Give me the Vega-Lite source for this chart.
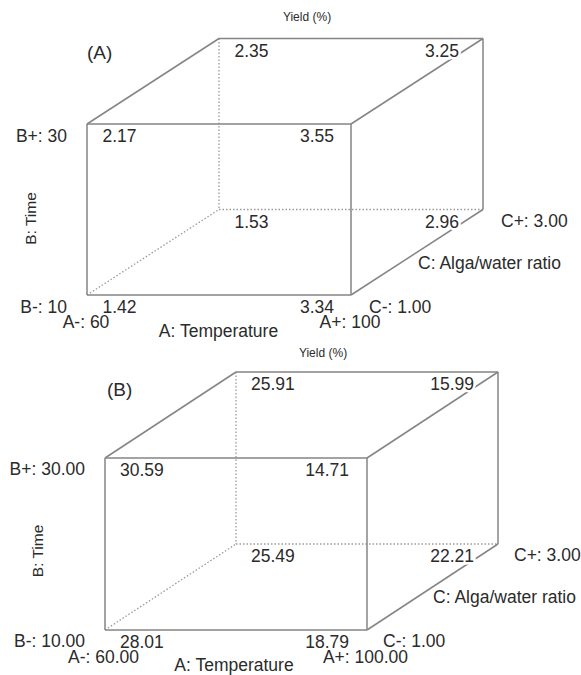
{
  "$schema": "https://vega.github.io/schema/vega-lite/v6.json",
  "padding": 0,
  "spacing": 0,
  "bounds": "flush",
  "background": "white",
  "config": {
    "view": {"stroke": null},
    "text": {"font": "Liberation Sans", "fontSize": 17.5, "fill": "#2b2b2b", "baseline": "middle"}
  },
  "datasets": {
    "edges": [
      {"X": 0, "Y": 0, "X2": 1, "Y2": 0, "hidden": false},
      {"X": 1, "Y": 0, "X2": 1, "Y2": 1, "hidden": false},
      {"X": 1, "Y": 1, "X2": 0, "Y2": 1, "hidden": false},
      {"X": 0, "Y": 1, "X2": 0, "Y2": 0, "hidden": false},
      {"X": 0.5, "Y": 1.5, "X2": 1.5, "Y2": 1.5, "hidden": false},
      {"X": 1.5, "Y": 1.5, "X2": 1.5, "Y2": 0.5, "hidden": false},
      {"X": 1, "Y": 0, "X2": 1.5, "Y2": 0.5, "hidden": false},
      {"X": 1, "Y": 1, "X2": 1.5, "Y2": 1.5, "hidden": false},
      {"X": 0, "Y": 1, "X2": 0.5, "Y2": 1.5, "hidden": false},
      {"X": 0.5, "Y": 0.5, "X2": 1.5, "Y2": 0.5, "hidden": true},
      {"X": 0.5, "Y": 1.5, "X2": 0.5, "Y2": 0.5, "hidden": true},
      {"X": 0, "Y": 0, "X2": 0.5, "Y2": 0.5, "hidden": true}
    ],
    "yields": [
      {"panel": "A", "A": -1, "B": 1, "C": -1, "X": 0, "Y": 1, "yield": 2.17},
      {"panel": "A", "A": 1, "B": 1, "C": -1, "X": 1, "Y": 1, "yield": 3.55},
      {"panel": "A", "A": -1, "B": 1, "C": 1, "X": 0.5, "Y": 1.5, "yield": 2.35},
      {"panel": "A", "A": 1, "B": 1, "C": 1, "X": 1.5, "Y": 1.5, "yield": 3.25},
      {"panel": "A", "A": -1, "B": -1, "C": -1, "X": 0, "Y": 0, "yield": 1.42},
      {"panel": "A", "A": 1, "B": -1, "C": -1, "X": 1, "Y": 0, "yield": 3.34},
      {"panel": "A", "A": -1, "B": -1, "C": 1, "X": 0.5, "Y": 0.5, "yield": 1.53},
      {"panel": "A", "A": 1, "B": -1, "C": 1, "X": 1.5, "Y": 0.5, "yield": 2.96},
      {"panel": "B", "A": -1, "B": 1, "C": -1, "X": 0, "Y": 1, "yield": 30.59},
      {"panel": "B", "A": 1, "B": 1, "C": -1, "X": 1, "Y": 1, "yield": 14.71},
      {"panel": "B", "A": -1, "B": 1, "C": 1, "X": 0.5, "Y": 1.5, "yield": 25.91},
      {"panel": "B", "A": 1, "B": 1, "C": 1, "X": 1.5, "Y": 1.5, "yield": 15.99},
      {"panel": "B", "A": -1, "B": -1, "C": -1, "X": 0, "Y": 0, "yield": 28.01},
      {"panel": "B", "A": 1, "B": -1, "C": -1, "X": 1, "Y": 0, "yield": 18.79},
      {"panel": "B", "A": -1, "B": -1, "C": 1, "X": 0.5, "Y": 0.5, "yield": 25.49},
      {"panel": "B", "A": 1, "B": -1, "C": 1, "X": 1.5, "Y": 0.5, "yield": 22.21}
    ],
    "labels": [
      {"panel": "A", "kind": "Blevel", "X": 0, "Y": 1, "text": "B+: 30"},
      {"panel": "A", "kind": "Blevel", "X": 0, "Y": 0, "text": "B-: 10"},
      {"panel": "A", "kind": "Alevel", "X": 0, "Y": 0, "text": "A-: 60"},
      {"panel": "A", "kind": "Alevel", "X": 1, "Y": 0, "text": "A+: 100"},
      {"panel": "A", "kind": "Clevel", "X": 1, "Y": 0, "text": "C-: 1.00"},
      {"panel": "A", "kind": "Clevel", "X": 1.5, "Y": 0.5, "text": "C+: 3.00"},
      {"panel": "A", "kind": "Atitle", "X": 0.5, "Y": 0, "text": "A: Temperature"},
      {"panel": "A", "kind": "Ctitle", "X": 1.25, "Y": 0.25, "text": "C: Alga/water ratio"},
      {"panel": "A", "kind": "Btitle", "X": 0, "Y": 0.5, "text": "B: Time"},
      {"panel": "A", "kind": "tag", "X": 0, "Y": 1, "text": "(A)"},
      {"panel": "A", "kind": "ytitle", "X": 1, "Y": 1.5, "text": "Yield (%)"},
      {"panel": "B", "kind": "Blevel", "X": 0, "Y": 1, "text": "B+: 30.00"},
      {"panel": "B", "kind": "Blevel", "X": 0, "Y": 0, "text": "B-: 10.00"},
      {"panel": "B", "kind": "Alevel", "X": 0, "Y": 0, "text": "A-: 60.00"},
      {"panel": "B", "kind": "Alevel", "X": 1, "Y": 0, "text": "A+: 100.00"},
      {"panel": "B", "kind": "Clevel", "X": 1, "Y": 0, "text": "C-: 1.00"},
      {"panel": "B", "kind": "Clevel", "X": 1.5, "Y": 0.5, "text": "C+: 3.00"},
      {"panel": "B", "kind": "Atitle", "X": 0.5, "Y": 0, "text": "A: Temperature"},
      {"panel": "B", "kind": "Ctitle", "X": 1.25, "Y": 0.25, "text": "C: Alga/water ratio"},
      {"panel": "B", "kind": "Btitle", "X": 0, "Y": 0.5, "text": "B: Time"},
      {"panel": "B", "kind": "tag", "X": 0, "Y": 1, "text": "(B)"},
      {"panel": "B", "kind": "ytitle", "X": 1, "Y": 1.5, "text": "Yield (%)"}
    ]
  },
  "vconcat": [
    {
      "width": 581,
      "height": 337,
      "encoding": {
        "x": {"field": "X", "type": "quantitative", "axis": null, "scale": {"domain": [-0.32955, 1.87121], "nice": false, "zero": false}},
        "y": {"field": "Y", "type": "quantitative", "axis": null, "scale": {"domain": [-0.24561, 1.72515], "nice": false, "zero": false}}
      },
      "layer": [
        {"data": {"name": "edges"}, "transform": [{"filter": "datum.hidden"}], "mark": {"type": "rule", "stroke": "#9a9a9a", "strokeWidth": 1.3, "strokeDash": [1.5, 2]}, "encoding": {"x2": {"field": "X2"}, "y2": {"field": "Y2"}}},
        {"data": {"name": "edges"}, "transform": [{"filter": "!datum.hidden"}], "mark": {"type": "rule", "stroke": "#858585", "strokeWidth": 1.5}, "encoding": {"x2": {"field": "X2"}, "y2": {"field": "Y2"}}},
        {"data": {"name": "yields"}, "transform": [{"filter": "datum.panel == 'A' && datum.A == 1 && datum.C == 1"}], "mark": {"type": "text", "align": "right", "dx": -24, "dy": 13, "fill": "white", "stroke": "white", "strokeWidth": 5}, "encoding": {"text": {"field": "yield", "type": "quantitative", "format": ".2f"}}},
        {"data": {"name": "yields"}, "transform": [{"filter": "datum.panel == 'A' && datum.A == -1"}], "mark": {"type": "text", "align": "left", "dx": 15.5, "dy": 13}, "encoding": {"text": {"field": "yield", "type": "quantitative", "format": ".2f"}}},
        {"data": {"name": "yields"}, "transform": [{"filter": "datum.panel == 'A' && datum.A == 1 && datum.C == -1"}], "mark": {"type": "text", "align": "right", "dx": -17, "dy": 13}, "encoding": {"text": {"field": "yield", "type": "quantitative", "format": ".2f"}}},
        {"data": {"name": "yields"}, "transform": [{"filter": "datum.panel == 'A' && datum.A == 1 && datum.C == 1"}], "mark": {"type": "text", "align": "right", "dx": -24, "dy": 13}, "encoding": {"text": {"field": "yield", "type": "quantitative", "format": ".2f"}}},
        {"data": {"name": "labels"}, "transform": [{"filter": "datum.panel == 'A' && datum.kind == 'Blevel'"}], "mark": {"type": "text", "align": "right", "dx": -20, "dy": 12.5}, "encoding": {"text": {"field": "text"}}},
        {"data": {"name": "labels"}, "transform": [{"filter": "datum.panel == 'A' && datum.kind == 'Alevel'"}], "mark": {"type": "text", "align": "center", "dx": -1, "dy": 28}, "encoding": {"text": {"field": "text"}}},
        {"data": {"name": "labels"}, "transform": [{"filter": "datum.panel == 'A' && datum.kind == 'Clevel'"}], "mark": {"type": "text", "align": "left", "dx": 18, "dy": 12.5}, "encoding": {"text": {"field": "text"}}},
        {"data": {"name": "labels"}, "transform": [{"filter": "datum.panel == 'A' && datum.kind == 'Atitle'"}], "mark": {"type": "text", "align": "center", "dx": -0.5, "dy": 37}, "encoding": {"text": {"field": "text"}}},
        {"data": {"name": "labels"}, "transform": [{"filter": "datum.panel == 'A' && datum.kind == 'Ctitle'"}], "mark": {"type": "text", "align": "left", "dx": 1, "dy": 12}, "encoding": {"text": {"field": "text"}}},
        {"data": {"name": "labels"}, "transform": [{"filter": "datum.panel == 'A' && datum.kind == 'Btitle'"}], "mark": {"type": "text", "align": "center", "angle": 270, "fontSize": 15.5, "dx": -9, "dy": -56}, "encoding": {"text": {"field": "text"}}},
        {"data": {"name": "labels"}, "transform": [{"filter": "datum.panel == 'A' && datum.kind == 'tag'"}], "mark": {"type": "text", "align": "left", "fontSize": 19, "dx": 0, "dy": -71}, "encoding": {"text": {"field": "text"}}},
        {"data": {"name": "labels"}, "transform": [{"filter": "datum.panel == 'A' && datum.kind == 'ytitle'"}], "mark": {"type": "text", "align": "center", "fontSize": 12, "dx": -44, "dy": -21.5}, "encoding": {"text": {"field": "text"}}}
      ]
    },
    {
      "width": 581,
      "height": 338,
      "encoding": {
        "x": {"field": "X", "type": "quantitative", "axis": null, "scale": {"domain": [-0.40076, 1.8168], "nice": false, "zero": false}},
        "y": {"field": "Y", "type": "quantitative", "axis": null, "scale": {"domain": [-0.26163, 1.70349], "nice": false, "zero": false}}
      },
      "layer": [
        {"data": {"name": "edges"}, "transform": [{"filter": "datum.hidden"}], "mark": {"type": "rule", "stroke": "#9a9a9a", "strokeWidth": 1.3, "strokeDash": [1.5, 2]}, "encoding": {"x2": {"field": "X2"}, "y2": {"field": "Y2"}}},
        {"data": {"name": "edges"}, "transform": [{"filter": "!datum.hidden"}], "mark": {"type": "rule", "stroke": "#858585", "strokeWidth": 1.5}, "encoding": {"x2": {"field": "X2"}, "y2": {"field": "Y2"}}},
        {"data": {"name": "yields"}, "transform": [{"filter": "datum.panel == 'B' && datum.A == 1 && datum.C == 1"}], "mark": {"type": "text", "align": "right", "dx": -24, "dy": 13, "fill": "white", "stroke": "white", "strokeWidth": 5}, "encoding": {"text": {"field": "yield", "type": "quantitative", "format": ".2f"}}},
        {"data": {"name": "yields"}, "transform": [{"filter": "datum.panel == 'B' && datum.A == -1"}], "mark": {"type": "text", "align": "left", "dx": 15, "dy": 13}, "encoding": {"text": {"field": "yield", "type": "quantitative", "format": ".2f"}}},
        {"data": {"name": "yields"}, "transform": [{"filter": "datum.panel == 'B' && datum.A == 1 && datum.C == -1"}], "mark": {"type": "text", "align": "right", "dx": -18, "dy": 13}, "encoding": {"text": {"field": "yield", "type": "quantitative", "format": ".2f"}}},
        {"data": {"name": "yields"}, "transform": [{"filter": "datum.panel == 'B' && datum.A == 1 && datum.C == 1"}], "mark": {"type": "text", "align": "right", "dx": -24, "dy": 13}, "encoding": {"text": {"field": "yield", "type": "quantitative", "format": ".2f"}}},
        {"data": {"name": "labels"}, "transform": [{"filter": "datum.panel == 'B' && datum.kind == 'Blevel'"}], "mark": {"type": "text", "align": "right", "dx": -20, "dy": 12}, "encoding": {"text": {"field": "text"}}},
        {"data": {"name": "labels"}, "transform": [{"filter": "datum.panel == 'B' && datum.kind == 'Alevel'"}], "mark": {"type": "text", "align": "center", "dx": -1.5, "dy": 28}, "encoding": {"text": {"field": "text"}}},
        {"data": {"name": "labels"}, "transform": [{"filter": "datum.panel == 'B' && datum.kind == 'Clevel'"}], "mark": {"type": "text", "align": "left", "dx": 16, "dy": 12.5}, "encoding": {"text": {"field": "text"}}},
        {"data": {"name": "labels"}, "transform": [{"filter": "datum.panel == 'B' && datum.kind == 'Atitle'"}], "mark": {"type": "text", "align": "center", "dx": -2, "dy": 36}, "encoding": {"text": {"field": "text"}}},
        {"data": {"name": "labels"}, "transform": [{"filter": "datum.panel == 'B' && datum.kind == 'Ctitle'"}], "mark": {"type": "text", "align": "left", "dx": 0.5, "dy": 11}, "encoding": {"text": {"field": "text"}}},
        {"data": {"name": "labels"}, "transform": [{"filter": "datum.panel == 'B' && datum.kind == 'Btitle'"}], "mark": {"type": "text", "align": "center", "angle": 270, "fontSize": 15.5, "dx": -7, "dy": -67}, "encoding": {"text": {"field": "text"}}},
        {"data": {"name": "labels"}, "transform": [{"filter": "datum.panel == 'B' && datum.kind == 'tag'"}], "mark": {"type": "text", "align": "left", "fontSize": 19, "dx": 2, "dy": -68}, "encoding": {"text": {"field": "text"}}},
        {"data": {"name": "labels"}, "transform": [{"filter": "datum.panel == 'B' && datum.kind == 'ytitle'"}], "mark": {"type": "text", "align": "center", "fontSize": 12, "dx": -44, "dy": -19}, "encoding": {"text": {"field": "text"}}}
      ]
    }
  ]
}
